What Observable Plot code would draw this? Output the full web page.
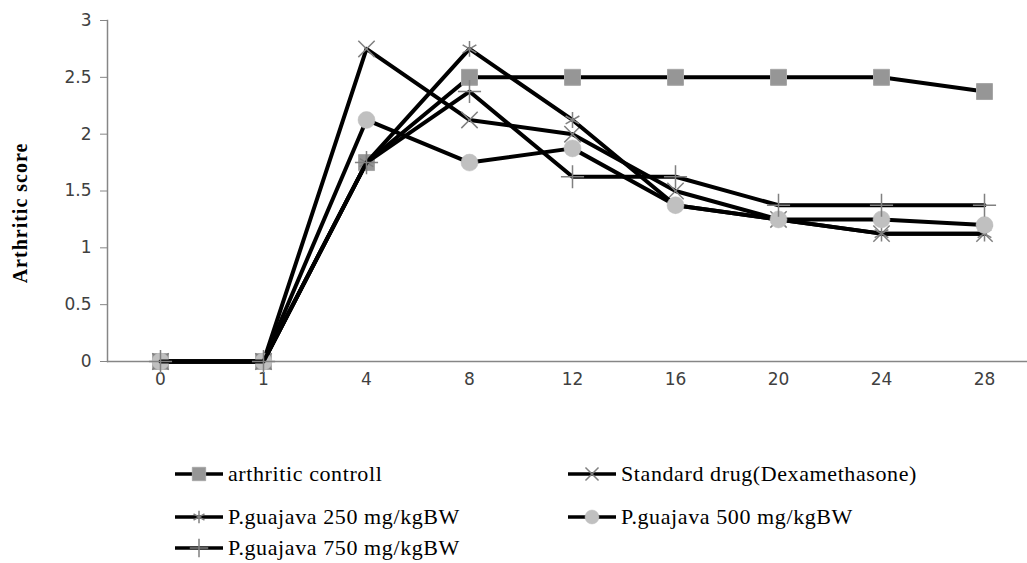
<!DOCTYPE html>
<html>
<head>
<meta charset="utf-8">
<script src="https://cdn.jsdelivr.net/npm/d3@7"></script>
<script src="https://cdn.jsdelivr.net/npm/@observablehq/plot@0.6"></script>
<style>
  html, body { margin: 0; padding: 0; background: #fff; }
  #wrap { position: relative; width: 1027px; height: 563px; overflow: hidden; }
  .leg { position: absolute; display: flex; align-items: center; font-family: "Liberation Serif", "Times New Roman", serif; font-size: 22px; letter-spacing: 0.6px; color: #000; white-space: nowrap; }
  .leg svg { margin-right: 5px; }
</style>
</head>
<body>
<div id="wrap"></div>
<script>
const days = ["0", "1", "4", "8", "12", "16", "20", "24", "28"];
const seriesNames = [
  "arthritic controll",
  "Standard drug(Dexamethasone)",
  "P.guajava 250 mg/kgBW",
  "P.guajava 500 mg/kgBW",
  "P.guajava 750 mg/kgBW"
];
const control  = [0, 0, 1.75, 2.5, 2.5, 2.5, 2.5, 2.5, 2.375];
const standard = [0, 0, 2.75, 2.125, 2.0, 1.5, 1.25, 1.125, 1.125];
const pg250    = [0, 0, 1.75, 2.75, 2.125, 1.375, 1.25, 1.125, 1.125];
const pg500    = [0, 0, 2.125, 1.75, 1.875, 1.375, 1.25, 1.25, 1.2];
const pg750    = [0, 0, 1.75, 2.375, 1.625, 1.625, 1.375, 1.375, 1.375];
const yTicks = [0, 0.5, 1, 1.5, 2, 2.5, 3];

const values = [control, standard, pg250, pg500, pg750];
const styles = [
  {symbol: "square",   fill: "#969696", stroke: "#a6a6a6", sw: 1,   r: 9,   lr: 7.5},
  {symbol: "times",    fill: "none",    stroke: "#808080", sw: 1.5, r: 7.5, lr: 6},
  {symbol: "asterisk", fill: "none",    stroke: "#808080", sw: 1.5, r: 7.5, lr: 6},
  {symbol: "circle",   fill: "#c0c0c0", stroke: "#c0c0c0", sw: 0.5, r: 8.5, lr: 7},
  {symbol: "plus",     fill: "none",    stroke: "#808080", sw: 1.5, r: 7.5, lr: 6}
];

const marks = [];
seriesNames.forEach((name, s) => {
  const data = days.map((d, i) => ({day: d, value: values[s][i], series: name}));
  const st = styles[s];
  marks.push(Plot.line(data, {x: "day", y: "value", stroke: "#000", strokeWidth: 4}));
  marks.push(Plot.dot(data, {x: "day", y: "value", symbol: () => st.symbol, r: st.r,
    fill: st.fill, stroke: st.stroke, strokeWidth: st.sw}));
});

const chart = Plot.plot({
  width: 1027,
  height: 400,
  marginLeft: 107,
  marginRight: 0,
  marginTop: 20,
  marginBottom: 39,
  style: {background: "#fff"},
  x: {type: "point", domain: days, range: [107, 1036], padding: 0.5},
  y: {domain: [0, 3]},
  symbol: {type: "identity"},
  marks: [
    Plot.frame({anchor: "left", stroke: "#868686", strokeWidth: 1.5}),
    Plot.ruleY([0], {stroke: "#868686", strokeWidth: 1.5}),
    Plot.axisY({ticks: yTicks, tickSize: 7, tickPadding: 9, stroke: "#868686",
      tickFormat: d => String(d), fontSize: 17, fontFamily: "DejaVu Sans", fill: "#404040", label: null}),
    Plot.axisX({tickSize: 0, tickPadding: 11, fontSize: 17, fontFamily: "DejaVu Sans", fill: "#404040", label: null}),
    Plot.text(["Arthritic score"], {frameAnchor: "left", textAnchor: "middle", dx: -87, dy: 22, rotate: -90,
      fontWeight: "bold", fontSize: 20, fontFamily: "Liberation Serif", fill: "#000"}),
    ...marks
  ]
});

const wrap = document.getElementById("wrap");
wrap.appendChild(chart);
chart.querySelectorAll("text").forEach(t => {
  if (t.textContent === "Arthritic score") t.setAttribute("letter-spacing", "1");
});

// legend
const legPos = [
  {left: 175, top: 474}, {left: 568, top: 474},
  {left: 175, top: 517}, {left: 568, top: 517},
  {left: 175, top: 548}
];
const symMap = {square: d3.symbolSquare, times: d3.symbolTimes, asterisk: d3.symbolAsterisk, circle: d3.symbolCircle, plus: d3.symbolPlus};
seriesNames.forEach((name, s) => {
  const st = styles[s];
  const div = document.createElement("div");
  div.className = "leg";
  div.style.left = legPos[s].left + "px";
  div.style.top = (legPos[s].top - 14) + "px";
  div.style.height = "28px";
  const svg = d3.create("svg").attr("width", 48).attr("height", 28);
  svg.append("line").attr("x1", 0).attr("x2", 48).attr("y1", 14).attr("y2", 14)
    .attr("stroke", "#000").attr("stroke-width", 3.5);
  svg.append("path")
    .attr("transform", "translate(24,14)")
    .attr("d", d3.symbol(symMap[st.symbol], Math.PI * st.lr * st.lr)())
    .attr("fill", st.fill).attr("stroke", st.stroke).attr("stroke-width", st.sw);
  div.appendChild(svg.node());
  const span = document.createElement("span");
  span.textContent = name;
  div.appendChild(span);
  wrap.appendChild(div);
});
</script>
</body>
</html>
